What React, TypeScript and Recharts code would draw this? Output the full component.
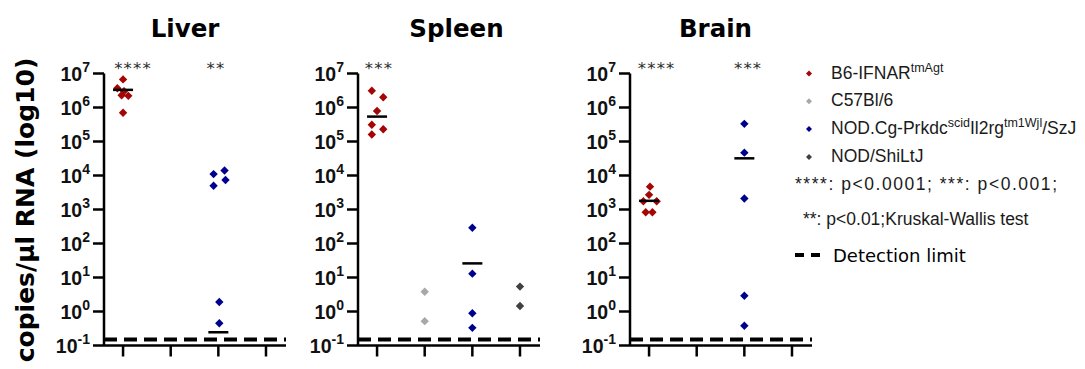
import React from "react";
import { ScatterChart, Scatter, XAxis, YAxis, ReferenceLine } from "recharts";

// colours per mouse strain
const RED = "#a50505";
const GRAY = "#a8a8a8";
const BLUE = "#00008f";
const DARK = "#404040";

const Y_TICKS = [0.1, 1, 10, 100, 1e3, 1e4, 1e5, 1e6, 1e7];
const X_TICKS = [0, 1, 2, 3];
const DETECTION_LIMIT = 0.15;

type Pt = { x: number; y: number };
type Star = { x: number; y: number; text: string };

// x = strain column (0 B6-IFNAR, 1 C57Bl/6, 2 NSG, 3 NOD/ShiLtJ) incl. jitter
const liverIfnar: Pt[] = [
  { x: 0.0, y: 6.7e6 },
  { x: -0.12, y: 3.7e6 },
  { x: 0.02, y: 3.0e6 },
  { x: -0.03, y: 2.3e6 },
  { x: 0.11, y: 2.2e6 },
  { x: 0.0, y: 7.0e5 },
];
const liverNsg: Pt[] = [
  { x: 1.9, y: 1.1e4 },
  { x: 2.13, y: 1.4e4 },
  { x: 1.9, y: 5.0e3 },
  { x: 2.15, y: 7.4e3 },
  { x: 2.02, y: 1.9 },
  { x: 2.02, y: 0.45 },
];
const liverMedians: Pt[] = [
  { x: 0, y: 3.3e6 },
  { x: 2, y: 0.245 },
];
const liverStars: Star[] = [
  { x: 0.21, y: 1e7, text: "****" },
  { x: 1.95, y: 1e7, text: "**" },
];

const spleenIfnar: Pt[] = [
  { x: -0.11, y: 3.1e6 },
  { x: 0.13, y: 2.0e6 },
  { x: 0.0, y: 7.9e5 },
  { x: -0.11, y: 3.1e5 },
  { x: 0.13, y: 2.3e5 },
  { x: -0.11, y: 1.6e5 },
];
const spleenC57: Pt[] = [
  { x: 1, y: 3.8 },
  { x: 1, y: 0.52 },
];
const spleenNsg: Pt[] = [
  { x: 2, y: 290 },
  { x: 2, y: 13 },
  { x: 2, y: 0.89 },
  { x: 2, y: 0.33 },
];
const spleenNod: Pt[] = [
  { x: 3, y: 5.4 },
  { x: 3, y: 1.45 },
];
const spleenMedians: Pt[] = [
  { x: 0, y: 5.4e5 },
  { x: 2, y: 26 },
];
const spleenStars: Star[] = [{ x: 0.04, y: 1e7, text: "***" }];

const brainIfnar: Pt[] = [
  { x: 0.02, y: 4.7e3 },
  { x: 0.0, y: 2.7e3 },
  { x: -0.12, y: 1.75e3 },
  { x: 0.16, y: 1.75e3 },
  { x: -0.07, y: 830 },
  { x: 0.07, y: 830 },
];
const brainNsg: Pt[] = [
  { x: 2, y: 3.3e5 },
  { x: 2, y: 4.7e4 },
  { x: 2, y: 2.1e3 },
  { x: 2, y: 2.9 },
  { x: 2, y: 0.38 },
];
const brainMedians: Pt[] = [
  { x: 0, y: 1.8e3 },
  { x: 2, y: 3.2e4 },
];
const brainStars: Star[] = [
  { x: 0.16, y: 1e7, text: "****" },
  { x: 2.08, y: 1e7, text: "***" },
];

const legendColors = [RED, GRAY, BLUE, DARK];

const AXIS = { stroke: "#000", strokeWidth: 2.5 };

function PowerTick(props: any) {
  const { x, y, payload } = props;
  const exp = Math.round(Math.log10(payload.value));
  return (
    <text
      x={x}
      y={y}
      dy={7}
      textAnchor="end"
      fontFamily="'Liberation Sans', Arial, sans-serif"
      fontWeight={700}
      fontSize={19.5}
      fill="#111"
    >
      10
      <tspan dy={-8.5} fontSize={14}>
        {exp}
      </tspan>
    </text>
  );
}

const EmptyTick = () => <g />;

const diamond = (color: string) => (props: any) => {
  const { cx, cy } = props;
  const r = 4.2;
  return (
    <polygon
      points={`${cx},${cy - r} ${cx + r},${cy} ${cx},${cy + r} ${cx - r},${cy}`}
      fill={color}
    />
  );
};

const MedianLine = (props: any) => {
  const { cx, cy } = props;
  return <line x1={cx - 10} x2={cx + 10} y1={cy} y2={cy} stroke="#000" strokeWidth={2.5} />;
};

const StarText = (props: any) => {
  const { cx, cy, payload } = props;
  return (
    <text
      x={cx}
      y={cy}
      textAnchor="middle"
      fontFamily="'DejaVu Sans', sans-serif"
      fontSize={16.5}
      letterSpacing={1.2}
      fill="#2a2a2a"
    >
      {payload.text}
    </text>
  );
};

interface PanelProps {
  left: number;
  series: { data: Pt[]; color: string }[];
  medians: Pt[];
  stars: Star[];
}

function Panel({ left, series, medians, stars }: PanelProps) {
  return (
    <div style={{ position: "absolute", left, top: 0 }}>
      <ScatterChart
        width={242}
        height={369}
        margin={{ top: 73.5, right: 0, bottom: 11.5, left: 0 }}
        style={{ overflow: "visible" }}
      >
        <XAxis
          type="number"
          dataKey="x"
          domain={[-0.4, 3.42]}
          ticks={X_TICKS}
          interval={0}
          height={12}
          tickSize={11}
          tick={EmptyTick}
          axisLine={AXIS}
          tickLine={AXIS}
        />
        <YAxis
          type="number"
          dataKey="y"
          scale="log"
          domain={[0.1, 1e7]}
          ticks={Y_TICKS}
          interval={0}
          width={60}
          tickSize={11}
          tickMargin={3}
          tick={PowerTick}
          axisLine={AXIS}
          tickLine={AXIS}
        />
        <ReferenceLine
          y={DETECTION_LIMIT}
          stroke="#000"
          strokeWidth={4}
          strokeDasharray="13 7"
        />
        {series.map((s, i) => (
          <Scatter key={i} data={s.data} shape={diamond(s.color)} isAnimationActive={false} />
        ))}
        <Scatter data={medians} shape={MedianLine} isAnimationActive={false} />
        <Scatter data={stars} shape={StarText} isAnimationActive={false} />
      </ScatterChart>
    </div>
  );
}

const TITLE_FONT = "'DejaVu Sans', Verdana, sans-serif";
const LEGEND_FONT = "'Liberation Sans', Arial, sans-serif";

export default function App() {
  return (
    <div
      style={{
        position: "absolute",
        left: 0,
        top: 0,
        width: 1085,
        height: 369,
        background: "#fff",
        overflow: "hidden",
      }}
    >
      <Panel
        left={44}
        series={[
          { data: liverIfnar, color: RED },
          { data: liverNsg, color: BLUE },
        ]}
        medians={liverMedians}
        stars={liverStars}
      />
      <Panel
        left={297.5}
        series={[
          { data: spleenIfnar, color: RED },
          { data: spleenC57, color: GRAY },
          { data: spleenNsg, color: BLUE },
          { data: spleenNod, color: DARK },
        ]}
        medians={spleenMedians}
        stars={spleenStars}
      />
      <Panel
        left={569.5}
        series={[
          { data: brainIfnar, color: RED },
          { data: brainNsg, color: BLUE },
        ]}
        medians={brainMedians}
        stars={brainStars}
      />
      <svg
        width={1085}
        height={369}
        style={{ position: "absolute", left: 0, top: 0, pointerEvents: "none" }}
      >
        <g fontFamily={TITLE_FONT} fontWeight={700} fontSize={24.5} fill="#000" textAnchor="middle">
          <text x={185} y={37}>Liver</text>
          <text x={456.5} y={37}>Spleen</text>
          <text x={715.5} y={37}>Brain</text>
        </g>
        <text
          transform="translate(34,210) rotate(-90)"
          textAnchor="middle"
          fontFamily={TITLE_FONT}
          fontWeight={700}
          fontSize={25}
          fill="#000"
        >
          copies/µl RNA (log10)
        </text>

        {legendColors.map((color, i) => {
          const cy = 73.5 + i * 27.8;
          return (
            <polygon
              key={i}
              points={`809,${cy - 3} 812,${cy} 809,${cy + 3} 806,${cy}`}
              fill={color}
            />
          );
        })}
        <g fontFamily={LEGEND_FONT} fontSize={17.5} fill="#1a1a1a">
          <text x={831} y={78.5}>
            B6-IFNAR
            <tspan dy={-7} fontSize={12.5}>tmAgt</tspan>
          </text>
          <text x={831} y={106}>C57Bl/6</text>
          <text x={831} y={134}>
            NOD.Cg-Prkdc
            <tspan dy={-7} fontSize={12.5}>scid</tspan>
            <tspan dy={7}>Il2rg</tspan>
            <tspan dy={-7} fontSize={12.5}>tm1Wjl</tspan>
            <tspan dy={7}>/SzJ</tspan>
          </text>
          <text x={831} y={161.5}>NOD/ShiLtJ</text>
          <text x={795} y={190} textLength={262} lengthAdjust="spacing">
            ****: p&lt;0.0001; ***: p&lt;0.001;
          </text>
          <text x={803} y={225}>**: p&lt;0.01;Kruskal-Wallis test</text>
        </g>
        <line x1={795} x2={821} y1={255} y2={255} stroke="#000" strokeWidth={4} strokeDasharray="9 7" />
        <text x={833} y={262} fontFamily={TITLE_FONT} fontSize={18} fill="#000">
          Detection limit
        </text>
      </svg>
    </div>
  );
}
